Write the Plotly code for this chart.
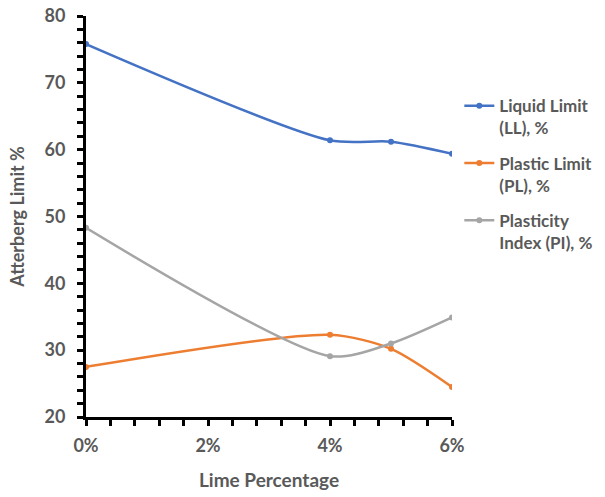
import plotly.graph_objects as go

# Lime content (fraction) and Atterberg limits (%)
lime = [0.0, 0.04, 0.05, 0.06]
liquid_limit = [75.8, 61.4, 61.2, 59.4]
plastic_limit = [27.5, 32.3, 30.2, 24.5]
plasticity_index = [48.3, 29.1, 31.0, 34.9]

series_names = ["Liquid Limit<br>(LL), %", "Plastic Limit<br>(PL), %", "Plasticity<br>Index (PI), %"]
series_colors = ["#4472C4", "#ED7D31", "#A5A5A5"]

FONT = "Lato"
TEXT_COLOR = "#595959"

fig = go.Figure()
for i, (name, vals, color) in enumerate(zip(series_names, [liquid_limit, plastic_limit, plasticity_index], series_colors)):
    fig.add_trace(go.Scatter(
        x=lime, y=vals, name=name, mode="lines+markers",
        legendgroup=f"g{i}",
        line=dict(color=color, width=2.5, shape="spline", smoothing=0.75),
        marker=dict(color=color, size=6),
    ))

axis_common = dict(
    showline=True, linecolor="black", linewidth=3,
    ticks="outside", tickcolor="black", tickwidth=3, ticklen=6,
    showgrid=False, zeroline=False,
    tickfont=dict(family=FONT, size=18, color=TEXT_COLOR, weight="bold"),
)

fig.update_xaxes(
    **axis_common,
    range=[0, 0.06], dtick=0.02, tick0=0, tickformat=".0%",
    minor=dict(dtick=0.004, ticks="outside", ticklen=6, tickwidth=3, tickcolor="black"),
    ticklabelstandoff=4,
    title=dict(text="Lime Percentage", standoff=20,
               font=dict(family=FONT, size=19, color=TEXT_COLOR, weight="bold")),
)
fig.update_yaxes(
    **axis_common,
    range=[20, 80], dtick=10, tick0=20,
    minor=dict(dtick=2, ticks="outside", ticklen=6, tickwidth=3, tickcolor="black"),
    ticklabelstandoff=8,
    title=dict(text="Atterberg Limit %", standoff=16,
               font=dict(family=FONT, size=18, color=TEXT_COLOR, weight="bold")),
)

fig.update_layout(
    width=605, height=497,
    margin=dict(l=86, r=153, t=16, b=80, autoexpand=False),
    plot_bgcolor="white", paper_bgcolor="white",
    legend=dict(
        x=1.02, y=0.82, xanchor="left", yanchor="top", valign="top",
        font=dict(family=FONT, size=17, color=TEXT_COLOR, weight="bold"),
        itemwidth=30, tracegroupgap=10,
    ),
)

fig.write_html("out.html")
